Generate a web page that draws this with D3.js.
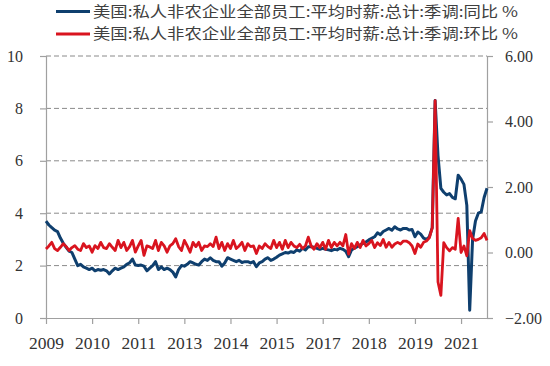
<!DOCTYPE html>
<html><head><meta charset="utf-8">
<script src="https://cdn.jsdelivr.net/npm/d3@7"></script>
<style>html,body{margin:0;padding:0;background:#fff;} svg{display:block}</style>
</head><body><svg id="c" width="550" height="366"></svg>
<script>
// Monthly categories 2009-01 .. 2021-10
const categories = d3.timeMonth.range(new Date(2009,0,1), new Date(2021,10,1)).map(d3.timeFormat("%Y-%m"));

const seriesNames = [
  "美国:私人非农企业全部员工:平均时薪:总计:季调:同比 %",
  "美国:私人非农企业全部员工:平均时薪:总计:季调:环比 %"
];

// YoY % (left axis)
const yoy = [
  3.7, 3.55, 3.45, 3.35, 3.3, 3.05, 2.85, 2.7, 2.55, 2.5, 2.25, 2.0,
  2.05, 1.95, 1.9, 1.85, 1.9, 1.8, 1.85, 1.82, 1.85, 1.8, 1.68, 1.8,
  1.9, 1.85, 1.9, 1.95, 2.05, 2.1, 2.25, 2.02, 2.0, 2.02, 1.98, 1.8,
  1.9, 2.0, 2.15, 1.85, 1.95, 1.85, 1.9, 1.85, 1.75, 1.57, 1.85, 2.0,
  1.98, 2.05, 2.15, 2.1, 2.05, 2.02, 2.15, 2.25, 2.2, 2.3, 2.2, 2.15,
  2.15, 1.98, 2.1, 2.3, 2.25, 2.2, 2.15, 2.2, 2.12, 2.15, 2.15, 2.1,
  2.15, 1.96, 2.1, 2.15, 2.25, 2.3, 2.2, 2.25, 2.32, 2.4, 2.45, 2.5,
  2.48, 2.53, 2.5, 2.6, 2.55, 2.66, 2.6, 2.72, 2.72, 2.7, 2.66, 2.62,
  2.66, 2.62, 2.6, 2.57, 2.62, 2.6, 2.66, 2.62, 2.55, 2.34, 2.6, 2.66,
  2.72, 2.79, 2.85, 2.9, 2.98, 3.04, 3.1, 3.25, 3.18, 3.3, 3.36, 3.42,
  3.35, 3.48, 3.4, 3.36, 3.42, 3.42, 3.36, 3.38, 3.1, 3.28, 3.2, 3.05,
  3.0, 3.1, 3.45, 8.3, 6.2, 4.95, 4.8, 4.7, 4.75, 4.6, 4.55, 5.45,
  5.3, 5.1, 4.3, 0.3, 3.0, 3.7, 4.0, 4.05, 4.6, 4.95
];

// MoM % (right axis)
const mom = [
  0.11, 0.2, 0.31, 0.12, 0.06, 0.16, 0.27, 0.18, 0.06, 0.15, 0.21, 0.1,
  0.06, 0.27, 0.15, 0.2, 0.01, 0.21, 0.12, 0.31, 0.15, 0.12, 0.27, 0.16,
  0.06, 0.37, 0.15, 0.31, 0.06, 0.18, 0.37, 0.01, 0.2, 0.37, -0.09, 0.2,
  0.17, 0.12, 0.37, 0.06, 0.31, 0.2, 0.01, 0.2, 0.27, 0.42, 0.18, 0.06,
  0.37, 0.2, 0.01, 0.31, 0.18, 0.31, 0.06, 0.2, 0.18, 0.27, 0.18, 0.47,
  0.12, 0.31, 0.06, 0.27, 0.12, 0.37, 0.12, 0.2, 0.31, 0.06, 0.27, 0.18,
  0.2, -0.03, 0.2, 0.12, 0.27, 0.18, 0.12, 0.37, 0.15, 0.31, 0.1, 0.37,
  0.15, 0.31, 0.2, 0.15, 0.25, 0.12, 0.2, 0.47, 0.2, 0.1, 0.27, 0.15,
  0.31, 0.1, 0.37, 0.15, 0.31, 0.2, 0.31, 0.2, 0.55, -0.05, 0.27, 0.12,
  0.31, 0.15, 0.37, 0.2, 0.27, 0.37, 0.15, 0.3, 0.21, 0.4, 0.16, 0.31,
  0.16, 0.26, 0.31, 0.26, 0.35, 0.35, 0.3, 0.2, -0.03, 0.26, 0.16, 0.31,
  0.35, 0.45, 0.75, 4.64, -0.9, -1.31, 0.3, 0.15, 0.05, 0.15, 0.1, 1.04,
  0.0, 0.2, -0.1, 0.67, 0.43, 0.37, 0.4, 0.45, 0.58, 0.37
];

const xTickCats = ["2009-01","2010-05","2011-09","2013-01","2014-05","2015-09","2017-01","2018-05","2019-09","2021-01"];
const xTickLabels = ["2009","2010","2011","2013","2014","2015","2017","2018","2019","2021"];
const leftTicks = [0, 2, 4, 6, 8, 10];
const rightTicks = [-2, 0, 2, 4, 6];

const colors = ["#0f3f6e", "#d9141f"];

const svg = d3.select("#c");
const X0 = 46, X1 = 487, YT = 56, YB = 318;
const x = d3.scalePoint().domain(categories).range([X0, X1]);
const yL = d3.scaleLinear().domain([0, 10]).range([YB, YT]);
const yR = d3.scaleLinear().domain([-2, 6]).range([YB, YT]);

const numFont = "'Liberation Serif', 'DejaVu Serif', serif";
const axisColor = "#a0a0a0";
const textColor = "#333";

// gridlines
svg.append("g").selectAll("line").data(leftTicks.filter(d => d > 0)).join("line")
  .attr("x1", X0).attr("x2", X1)
  .attr("y1", d => yL(d)).attr("y2", d => yL(d))
  .attr("stroke", "#8a8a8a").attr("stroke-width", 1).attr("stroke-dasharray", "5,3");

// left axis
const gL = svg.append("g").attr("transform", `translate(${X0},0)`)
  .call(d3.axisLeft(yL).tickValues(leftTicks).tickSize(6).tickPadding(17).tickFormat(d3.format("d")));
// right axis
const gR = svg.append("g").attr("transform", `translate(${X1},0)`)
  .call(d3.axisRight(yR).tickValues(rightTicks).tickSize(6).tickPadding(12).tickFormat(d3.format(".2f")));
// bottom axis
const gB = svg.append("g").attr("transform", `translate(0,${YB})`)
  .call(d3.axisBottom(x).tickValues(xTickCats).tickSize(6).tickPadding(13)
    .tickFormat(d => xTickLabels[xTickCats.indexOf(d)]));

[gL, gR, gB].forEach(g => {
  g.select(".domain").attr("stroke", axisColor).attr("stroke-width", 1.2);
  g.selectAll(".tick line").attr("stroke", axisColor).attr("stroke-width", 1.2);
  g.selectAll("text").attr("font-family", numFont).attr("font-size", 16).attr("fill", textColor);
});
gB.selectAll("text").attr("font-size", 17.5);
gB.select(".domain").attr("d", `M${X0 - 6},0.5H${X1}`);

// lines
const lineL = d3.line().x((d, i) => x(categories[i])).y(d => yL(d));
const lineR = d3.line().x((d, i) => x(categories[i])).y(d => yR(d));
svg.append("path").datum(yoy).attr("d", lineL).attr("fill", "none")
  .attr("stroke", colors[0]).attr("stroke-width", 3).attr("stroke-linejoin", "round");
svg.append("path").datum(mom).attr("d", lineR).attr("fill", "none")
  .attr("stroke", colors[1]).attr("stroke-width", 2.8).attr("stroke-linejoin", "round");

// legend
const legY = [11.5, 34];
const leg = svg.append("g");
seriesNames.forEach((name, i) => {
  leg.append("line").attr("x1", 56).attr("x2", 90).attr("y1", legY[i]).attr("y2", legY[i])
    .attr("stroke", colors[i]).attr("stroke-width", 3);
  leg.append("text").attr("x", 93).attr("y", legY[i]).attr("dy", "0.35em")
    .attr("font-family", "'Noto Sans CJK SC', sans-serif").attr("font-size", 15)
    .attr("fill", "#404040").attr("textLength", 425).attr("lengthAdjust", "spacingAndGlyphs")
    .text(name);
});
</script></body></html>
